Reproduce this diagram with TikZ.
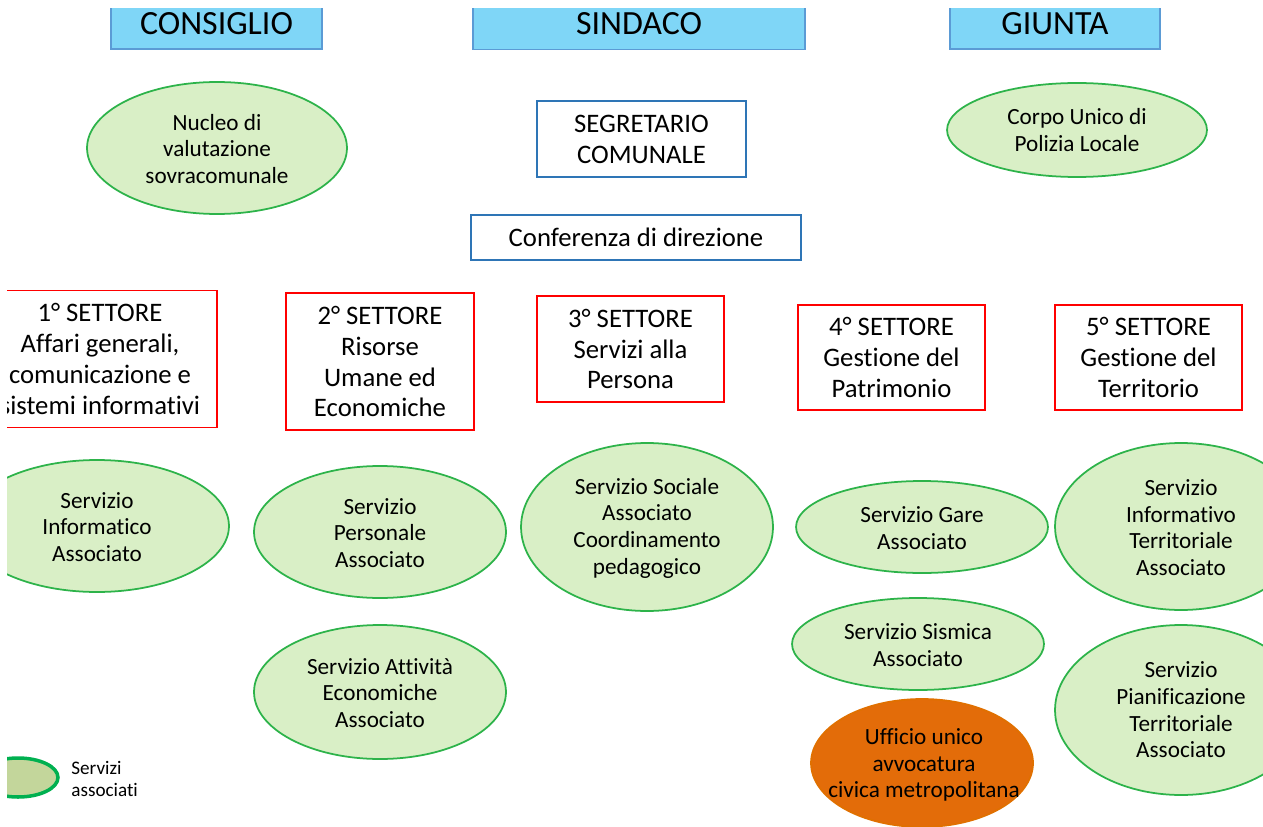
\documentclass[tikz,border=0pt]{standalone}
\usepackage{fontspec}
\setmainfont{Carlito}[Ligatures={NoCommon}]
\usetikzlibrary{shapes.geometric}
\definecolor{topfill}{HTML}{7FD6F7}
\definecolor{topline}{HTML}{5B9BD5}
\definecolor{segline}{HTML}{2E75B6}
\definecolor{secline}{HTML}{FF0000}
\definecolor{svcfill}{HTML}{D9EFC6}
\definecolor{svcline}{HTML}{2DB34A}
\definecolor{legfill}{HTML}{C3D69B}
\definecolor{legline}{HTML}{00B050}
\definecolor{orafill}{HTML}{E36C09}
\definecolor{oraline}{HTML}{E07000}
\tikzset{
  organ/.style={rectangle, draw=topline, line width=1pt, fill=topfill, inner sep=0pt,
    font={\fontsize{19.3}{22}\selectfont}},
  segbox/.style={rectangle, draw=segline, line width=0.9pt, fill=white, inner sep=0pt, align=center,
    font={\fontsize{15.2}{17.6}\selectfont}},
  secbox/.style={rectangle, draw=secline, line width=1.1pt, fill=white, inner sep=0pt, align=center,
    font={\fontsize{15.2}{17.6}\selectfont}},
  svc/.style={ellipse, draw=svcline, line width=1pt, fill=svcfill, inner sep=0pt},
  ora/.style={ellipse, draw=oraline, line width=1pt, fill=orafill, inner sep=0pt},
  svctext/.style={align=center, inner sep=0pt, font={\fontsize{13.2}{15.2}\selectfont}},
  legtext/.style={align=left, anchor=west, inner sep=0pt, font={\fontsize{10.9}{12.5}\selectfont}},
}
\begin{document}
\begin{tikzpicture}[x=0.02cm, y=-0.02cm]
\useasboundingbox (0,0) rectangle (1263,827);
\begin{scope}
\clip (7,9) rectangle (1263,827);
% top organs
\node[organ, minimum width=4.22cm, minimum height=1.0cm] (consiglio) at (216.5,24) {CONSIGLIO};
\node[organ, minimum width=6.64cm, minimum height=1.02cm] (sindaco) at (639,24) {SINDACO};
\node[organ, minimum width=4.2cm, minimum height=1.0cm] (giunta) at (1055,24) {GIUNTA};
% second row
\node[svc, minimum width=5.2cm, minimum height=2.64cm] (nucleo) at (217,148) {};
\node[svctext] (tnucleo) at (217,149) {Nucleo di\\valutazione\\sovracomunale};
\node[segbox, minimum width=4.18cm, minimum height=1.52cm] (segretario) at (641.5,139) {SEGRETARIO\\COMUNALE};
\node[svc, minimum width=5.2cm, minimum height=1.88cm] (corpo) at (1077,130) {};
\node[svctext] (tcorpo) at (corpo) {Corpo Unico di\\Polizia Locale};
\node[segbox, minimum width=6.6cm, minimum height=0.9cm] (conferenza) at (636,237.5) {Conferenza di direzione};
% sectors
\node[secbox, minimum width=4.68cm, minimum height=2.74cm] (s1) at (100,359) {1° SETTORE\\Affari generali,\\comunicazione e\\sistemi informativi};
\node[secbox, minimum width=3.76cm, minimum height=2.74cm] (s2) at (380,361.5) {2° SETTORE\\Risorse\\Umane ed\\Economiche};
\node[secbox, minimum width=3.74cm, minimum height=2.12cm] (s3) at (630.5,349) {3° SETTORE\\Servizi alla\\Persona};
\node[secbox, minimum width=3.74cm, minimum height=2.1cm] (s4) at (891.5,357.5) {4° SETTORE\\Gestione del\\Patrimonio};
\node[secbox, minimum width=3.74cm, minimum height=2.1cm] (s5) at (1148.5,357.5) {5° SETTORE\\Gestione del\\Territorio};
% services
\node[svc, minimum width=5.28cm, minimum height=2.64cm] (informatico) at (97,526) {};
\node[svctext] (tinformatico) at (97,527) {Servizio\\Informatico\\Associato};
\node[svc, minimum width=5.04cm, minimum height=2.64cm] (personale) at (380,532) {};
\node[svctext] (tpersonale) at (380,533) {Servizio\\Personale\\Associato};
\node[svc, minimum width=5.04cm, minimum height=2.68cm] (attivita) at (380,692) {};
\node[svctext] (tattivita) at (380,693) {Servizio Attività\\Economiche\\Associato};
\node[svc, minimum width=5.04cm, minimum height=3.36cm] (sociale) at (647,527) {};
\node[svctext] (tsociale) at (647,528) {Servizio Sociale\\Associato\\Coordinamento\\pedagogico};
\node[svc, minimum width=5.04cm, minimum height=1.84cm] (gare) at (922,527) {};
\node[svctext] (tgare) at (922,528) {Servizio Gare\\Associato};
\node[svc, minimum width=5.04cm, minimum height=1.84cm] (sismica) at (918,644) {};
\node[svctext] (tsismica) at (918,645) {Servizio Sismica\\Associato};
\node[ora, minimum width=4.44cm, minimum height=2.56cm] (ufficio) at (922,763) {};
\node[svctext] (tufficio) at (924,765) {Ufficio unico\\avvocatura\\civica metropolitana};
\node[svc, minimum width=5.04cm, minimum height=3.34cm] (informativo) at (1181,526.5) {};
\node[svctext] (tinformativo) at (1181,527.5) {Servizio\\Informativo\\Territoriale\\Associato};
\node[svc, minimum width=5.04cm, minimum height=3.4cm] (pianificazione) at (1181,710) {};
\node[svctext] (tpianificazione) at (1181,710) {Servizio\\Pianificazione\\Territoriale\\Associato};
% legend
\node[ellipse, draw=legline, line width=2pt, fill=legfill, inner sep=0pt, minimum width=1.6cm, minimum height=0.78cm] (legell) at (18,777.5) {};
\node[legtext] (legtxt) at (71,779) {Servizi\\associati};
\end{scope}
\end{tikzpicture}
\end{document}
